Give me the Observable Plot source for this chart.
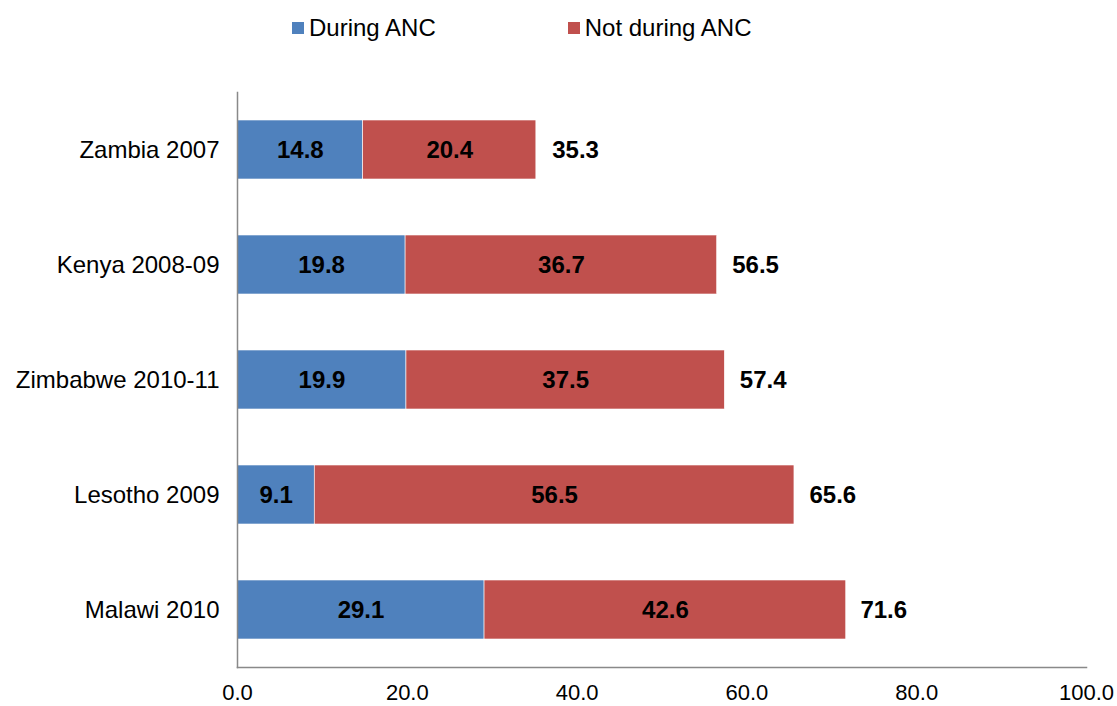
<!DOCTYPE html>
<html>
<head>
<meta charset="utf-8">
<script src="https://cdn.jsdelivr.net/npm/d3@7"></script>
<script src="https://cdn.jsdelivr.net/npm/@observablehq/plot@0.6"></script>
<style>
  body { margin: 0; background: #fff; font-family: "Liberation Sans", Arial, sans-serif; }
  #wrap { position: relative; width: 1117px; height: 706px; }
  #legend { position: absolute; top: 14px; left: 292px; display: flex; font-size: 24px; color: #000; }
  .item { display: flex; align-items: center; }
  .sw { width: 12px; height: 12px; margin-right: 5px; }
  #chart { position: absolute; top: 0; left: 0; }
</style>
</head>
<body>
<div id="wrap">
  <div id="chart"></div>
  <div id="legend"></div>
</div>
<script>
// Surveys, top to bottom
const surveys = ["Zambia 2007", "Kenya 2008-09", "Zimbabwe 2010-11", "Lesotho 2009", "Malawi 2010"];
const duringANC = [14.8, 19.8, 19.9, 9.1, 29.1];
const notDuringANC = [20.4, 36.7, 37.5, 56.5, 42.6];
const totals = [35.3, 56.5, 57.4, 65.6, 71.6];
const seriesNames = ["During ANC", "Not during ANC"];
const seriesColors = ["#4F81BD", "#C0504D"];
const xTicks = [0, 20, 40, 60, 80, 100];

const rows = surveys.flatMap((s, i) => [
  {survey: s, series: seriesNames[0], value: duringANC[i]},
  {survey: s, series: seriesNames[1], value: notDuringANC[i]}
]);
const totalRows = surveys.map((s, i) => ({survey: s, total: totals[i]}));

// Legend
const legend = document.getElementById("legend");
seriesNames.forEach((name, i) => {
  const item = document.createElement("div");
  item.className = "item";
  item.style.marginRight = i === 0 ? "132px" : "0";
  const sw = document.createElement("div");
  sw.className = "sw";
  sw.style.background = seriesColors[i];
  item.appendChild(sw);
  item.appendChild(document.createTextNode(name));
  legend.appendChild(item);
});

const chart = Plot.plot({
  width: 1117,
  height: 706,
  marginTop: 92,
  marginBottom: 39,
  marginLeft: 237,
  marginRight: 31,
  style: {fontFamily: "Liberation Sans, Arial, sans-serif", fontSize: "24px", color: "#000", background: "#fff"},
  x: {domain: [0, 100]},
  y: {domain: surveys, label: null, tickSize: 0, tickPadding: 18, paddingInner: 0.487, paddingOuter: 0.2435},
  color: {domain: seriesNames, range: seriesColors},
  marks: [
    Plot.axisX(xTicks, {tickFormat: d => d.toFixed(1), label: null, tickSize: 0, tickPadding: 17, fontSize: 22}),
    Plot.barX(rows, Plot.stackX({x: "value", y: "survey", fill: "series", stroke: "white", strokeWidth: 0.6})),
    Plot.text(rows, Plot.stackX({x: "value", y: "survey", z: "series", text: d => d.value.toFixed(1), fontWeight: "bold", fontSize: 24, fill: "#000"})),
    Plot.text(totalRows, {x: "total", y: "survey", text: d => d.total.toFixed(1), textAnchor: "start", dx: 15, fontWeight: "bold", fontSize: 24, fill: "#000"}),
    Plot.frame({anchor: "left", stroke: "#898989", strokeWidth: 1.5}),
    Plot.frame({anchor: "bottom", stroke: "#898989", strokeWidth: 1.5})
  ]
});
document.getElementById("chart").appendChild(chart);
</script>
</body>
</html>
